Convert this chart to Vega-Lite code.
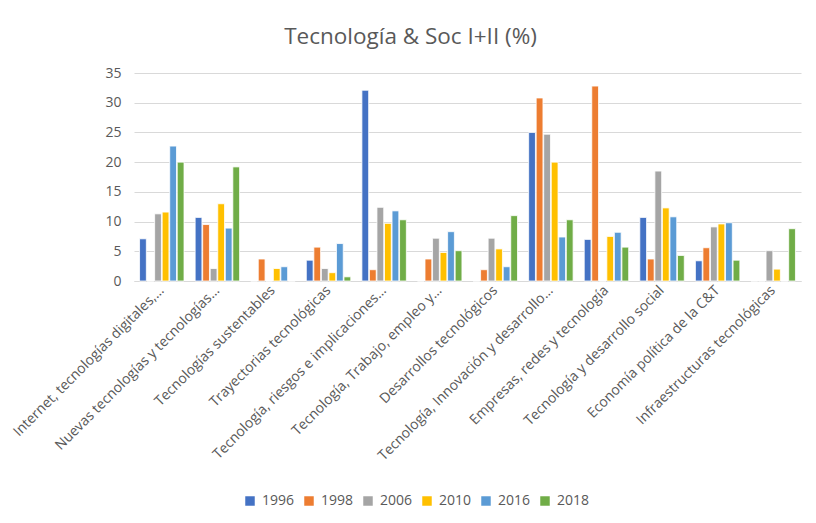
{
  "$schema": "https://vega.github.io/schema/vega-lite/v6.json",
  "width": 667,
  "height": 208,
  "autosize": {"type": "none"},
  "padding": {"left": 134, "top": 73, "right": 15, "bottom": 242},
  "background": "white",
  "title": {"text": "Tecnología & Soc I+II (%)", "fontSize": 22.5, "font": "Open Sans", "fontWeight": "normal", "color": "#595959", "offset": 18, "anchor": "middle", "dx": -57},
  "config": {
    "view": {"stroke": null},
    "font": "Open Sans",
    "axis": {"labelColor": "#595959", "labelFont": "Open Sans", "labelFontSize": 14},
    "legend": {"labelColor": "#595959", "labelFont": "Open Sans", "labelFontSize": 14}
  },
  "data": {"values": [
    {"cat": "Internet, tecnologías digitales,…", "o": 1, "year": "1996", "v": 7.1},
    {"cat": "Internet, tecnologías digitales,…", "o": 1, "year": "1998", "v": 0},
    {"cat": "Internet, tecnologías digitales,…", "o": 1, "year": "2006", "v": 11.3},
    {"cat": "Internet, tecnologías digitales,…", "o": 1, "year": "2010", "v": 11.6},
    {"cat": "Internet, tecnologías digitales,…", "o": 1, "year": "2016", "v": 22.7},
    {"cat": "Internet, tecnologías digitales,…", "o": 1, "year": "2018", "v": 20.0},
    {"cat": "Nuevas tecnologías y tecnologías…", "o": 2, "year": "1996", "v": 10.7},
    {"cat": "Nuevas tecnologías y tecnologías…", "o": 2, "year": "1998", "v": 9.5},
    {"cat": "Nuevas tecnologías y tecnologías…", "o": 2, "year": "2006", "v": 2.1},
    {"cat": "Nuevas tecnologías y tecnologías…", "o": 2, "year": "2010", "v": 13.0},
    {"cat": "Nuevas tecnologías y tecnologías…", "o": 2, "year": "2016", "v": 8.9},
    {"cat": "Nuevas tecnologías y tecnologías…", "o": 2, "year": "2018", "v": 19.2},
    {"cat": "Tecnologías sustentables", "o": 3, "year": "1996", "v": 0},
    {"cat": "Tecnologías sustentables", "o": 3, "year": "1998", "v": 3.7},
    {"cat": "Tecnologías sustentables", "o": 3, "year": "2006", "v": 0},
    {"cat": "Tecnologías sustentables", "o": 3, "year": "2010", "v": 2.1},
    {"cat": "Tecnologías sustentables", "o": 3, "year": "2016", "v": 2.4},
    {"cat": "Tecnologías sustentables", "o": 3, "year": "2018", "v": 0},
    {"cat": "Trayectorias tecnológicas", "o": 4, "year": "1996", "v": 3.5},
    {"cat": "Trayectorias tecnológicas", "o": 4, "year": "1998", "v": 5.7},
    {"cat": "Trayectorias tecnológicas", "o": 4, "year": "2006", "v": 2.1},
    {"cat": "Trayectorias tecnológicas", "o": 4, "year": "2010", "v": 1.4},
    {"cat": "Trayectorias tecnológicas", "o": 4, "year": "2016", "v": 6.3},
    {"cat": "Trayectorias tecnológicas", "o": 4, "year": "2018", "v": 0.7},
    {"cat": "Tecnología, riesgos e implicaciones…", "o": 5, "year": "1996", "v": 32.1},
    {"cat": "Tecnología, riesgos e implicaciones…", "o": 5, "year": "1998", "v": 1.9},
    {"cat": "Tecnología, riesgos e implicaciones…", "o": 5, "year": "2006", "v": 12.4},
    {"cat": "Tecnología, riesgos e implicaciones…", "o": 5, "year": "2010", "v": 9.7},
    {"cat": "Tecnología, riesgos e implicaciones…", "o": 5, "year": "2016", "v": 11.8},
    {"cat": "Tecnología, riesgos e implicaciones…", "o": 5, "year": "2018", "v": 10.3},
    {"cat": "Tecnología, Trabajo, empleo y…", "o": 6, "year": "1996", "v": 0},
    {"cat": "Tecnología, Trabajo, empleo y…", "o": 6, "year": "1998", "v": 3.7},
    {"cat": "Tecnología, Trabajo, empleo y…", "o": 6, "year": "2006", "v": 7.2},
    {"cat": "Tecnología, Trabajo, empleo y…", "o": 6, "year": "2010", "v": 4.8},
    {"cat": "Tecnología, Trabajo, empleo y…", "o": 6, "year": "2016", "v": 8.3},
    {"cat": "Tecnología, Trabajo, empleo y…", "o": 6, "year": "2018", "v": 5.1},
    {"cat": "Desarrollos tecnológicos", "o": 7, "year": "1996", "v": 0},
    {"cat": "Desarrollos tecnológicos", "o": 7, "year": "1998", "v": 1.9},
    {"cat": "Desarrollos tecnológicos", "o": 7, "year": "2006", "v": 7.2},
    {"cat": "Desarrollos tecnológicos", "o": 7, "year": "2010", "v": 5.4},
    {"cat": "Desarrollos tecnológicos", "o": 7, "year": "2016", "v": 2.4},
    {"cat": "Desarrollos tecnológicos", "o": 7, "year": "2018", "v": 11.0},
    {"cat": "Tecnología, Innovación y desarrollo…", "o": 8, "year": "1996", "v": 25.0},
    {"cat": "Tecnología, Innovación y desarrollo…", "o": 8, "year": "1998", "v": 30.8},
    {"cat": "Tecnología, Innovación y desarrollo…", "o": 8, "year": "2006", "v": 24.7},
    {"cat": "Tecnología, Innovación y desarrollo…", "o": 8, "year": "2010", "v": 20.0},
    {"cat": "Tecnología, Innovación y desarrollo…", "o": 8, "year": "2016", "v": 7.4},
    {"cat": "Tecnología, Innovación y desarrollo…", "o": 8, "year": "2018", "v": 10.3},
    {"cat": "Empresas, redes y tecnología", "o": 9, "year": "1996", "v": 7.0},
    {"cat": "Empresas, redes y tecnología", "o": 9, "year": "1998", "v": 32.8},
    {"cat": "Empresas, redes y tecnología", "o": 9, "year": "2006", "v": 0},
    {"cat": "Empresas, redes y tecnología", "o": 9, "year": "2010", "v": 7.5},
    {"cat": "Empresas, redes y tecnología", "o": 9, "year": "2016", "v": 8.2},
    {"cat": "Empresas, redes y tecnología", "o": 9, "year": "2018", "v": 5.7},
    {"cat": "Tecnología y desarrollo social", "o": 10, "year": "1996", "v": 10.7},
    {"cat": "Tecnología y desarrollo social", "o": 10, "year": "1998", "v": 3.7},
    {"cat": "Tecnología y desarrollo social", "o": 10, "year": "2006", "v": 18.5},
    {"cat": "Tecnología y desarrollo social", "o": 10, "year": "2010", "v": 12.3},
    {"cat": "Tecnología y desarrollo social", "o": 10, "year": "2016", "v": 10.8},
    {"cat": "Tecnología y desarrollo social", "o": 10, "year": "2018", "v": 4.3},
    {"cat": "Economía política de la C&T", "o": 11, "year": "1996", "v": 3.4},
    {"cat": "Economía política de la C&T", "o": 11, "year": "1998", "v": 5.6},
    {"cat": "Economía política de la C&T", "o": 11, "year": "2006", "v": 9.1},
    {"cat": "Economía política de la C&T", "o": 11, "year": "2010", "v": 9.6},
    {"cat": "Economía política de la C&T", "o": 11, "year": "2016", "v": 9.8},
    {"cat": "Economía política de la C&T", "o": 11, "year": "2018", "v": 3.5},
    {"cat": "Infraestructuras tecnológicas", "o": 12, "year": "1996", "v": 0},
    {"cat": "Infraestructuras tecnológicas", "o": 12, "year": "1998", "v": 0},
    {"cat": "Infraestructuras tecnológicas", "o": 12, "year": "2006", "v": 5.1},
    {"cat": "Infraestructuras tecnológicas", "o": 12, "year": "2010", "v": 2.0},
    {"cat": "Infraestructuras tecnológicas", "o": 12, "year": "2016", "v": 0},
    {"cat": "Infraestructuras tecnológicas", "o": 12, "year": "2018", "v": 8.8}
  ]},
  "mark": {"type": "bar", "stroke": "white", "strokeWidth": 0.8},
  "encoding": {
    "x": {"field": "cat", "type": "nominal", "sort": {"field": "o"},
      "scale": {"paddingInner": 0.2, "paddingOuter": 0.1},
      "axis": {"title": null, "labelAngle": -45, "labelAlign": "right", "labelBaseline": "middle", "labelLimit": 400, "ticks": false, "domainColor": "#D9D9D9", "labelPadding": 7, "grid": false}},
    "xOffset": {"field": "year", "type": "nominal", "scale": {"paddingInner": 0.1}},
    "y": {"field": "v", "type": "quantitative",
      "scale": {"domain": [0, 35]},
      "axis": {"title": null, "values": [0, 5, 10, 15, 20, 25, 30, 35], "domain": false, "ticks": false, "gridColor": "#D9D9D9", "labelPadding": 13}},
    "color": {"field": "year", "type": "nominal",
      "scale": {"domain": ["1996", "1998", "2006", "2010", "2016", "2018"], "range": ["#4472C4", "#ED7D31", "#A5A5A5", "#FFC000", "#5B9BD5", "#70AD47"]},
      "legend": {"title": null, "orient": "none", "legendX": 109, "legendY": 421, "direction": "horizontal", "symbolType": "square", "symbolSize": 90, "symbolStrokeWidth": 0, "columnPadding": 7, "labelOffset": 5}}
  }
}
